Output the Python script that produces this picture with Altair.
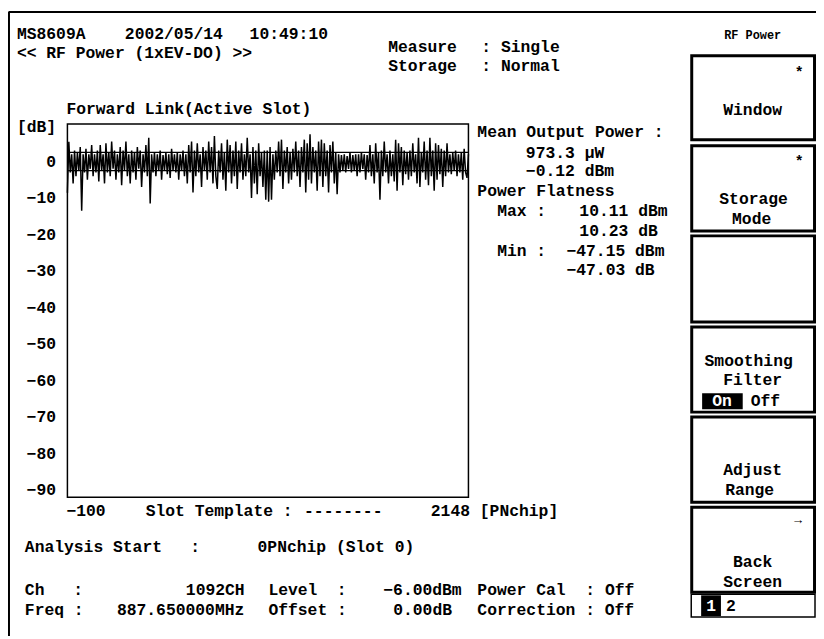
import altair as alt
import pandas as pd

# ---------------- data ----------------
chip_start = -100
chip_step = 8
trace_db = [
    -8.6, 5.4, -3.0, 2.0, -6.0, 3.0, -4.0, 2.5, -2.5, 4.0, -13.5, 2.0, -3.0, 3.5, -5.0, 2.0, -2.0, 4.5, -4.0, 2.0,
    -3.0, 3.0, -5.5, 4.5, -2.5, 2.0, -6.0, 5.0, -3.0, 2.5, -4.0, 5.5, -2.0, 3.0, -5.0, 2.0, -3.0, 4.0, -6.5, 3.0,
    -2.5, 5.5, -4.0, 2.0, -6.0, 3.0, -3.0, 2.5, -5.0, 4.0, -2.0, 3.0, -7.0, 2.0, -3.0, 4.5, -4.0, 6.5, -11.5, 2.0,
    -3.0, 2.5, -4.0, 2.0, -2.5, 3.0, -5.0, 1.8, -2.5, 2.5, -3.5, 2.0, -4.5, 3.5, -2.5, 2.0, -3.0, 2.5, -5.0, 2.0,
    -2.5, 3.0, -4.0, 2.0, -6.0, 4.5, -3.0, 5.5, -8.5, 3.0, -4.0, 5.0, -3.0, 2.0, -7.0, 4.0, -2.5, 3.0, -5.0, 5.5,
    -3.0, 4.0, -6.0, 7.0, -4.0, -7.5, 3.0, -3.0, 5.0, -5.0, 2.5, -8.0, 6.0, -3.0, 4.5, -6.0, 3.0, -4.0, 5.5, -7.5,
    3.0, -3.0, 5.0, -5.0, 2.0, -4.0, 6.5, -3.0, 2.0, -10.0, 4.0, -6.0, 3.0, -9.0, 5.0, -4.0, 2.5, -7.0, 3.0, -10.5,
    3.0, -11.0, 4.0, -10.5, 2.0, -5.0, 3.0, -3.0, 5.5, -4.0, 6.0, -7.5, 3.0, -3.0, 4.0, -6.0, 2.5, -5.0, 3.5, -3.0,
    5.5, -4.0, 3.0, -7.0, 4.0, -3.0, 6.0, -8.5, 5.0, -5.0, 7.5, -6.0, 4.0, -3.0, 3.0, -8.0, 5.5, -4.0, 6.0, -7.0,
    5.0, -4.0, 3.0, -8.5, 4.5, -3.0, 5.5, -6.0, 2.5, -9.0, 2.0, -3.0, 1.8, -2.5, 2.0, -3.0, 1.5, -2.0, 2.5, -3.0,
    1.8, -2.5, 2.0, -4.0, 2.0, -3.0, 2.5, -2.0, 2.0, -5.0, 1.8, -3.0, 4.5, -4.0, 2.0, -6.0, 5.0, -3.0, 2.5, -10.5,
    3.0, -4.0, 5.5, -3.0, 2.0, -6.0, 3.0, -4.0, 2.0, -5.5, 6.0, -8.0, 5.0, -3.0, 4.0, -6.5, 3.0, -3.5, 2.5, -5.0,
    3.0, -4.0, 5.0, -3.0, 2.0, -6.0, 6.5, -7.0, 2.5, -3.0, 5.5, -5.0, 3.0, -6.5, 6.5, -4.0, 3.0, -8.0, 5.0, -5.0,
    4.5, -3.5, 3.5, -7.0, 3.0, -4.0, 5.0, -3.0, 2.0, -3.5, 2.5, -2.5, 3.0, -4.0, 2.0, -3.0, 2.5, -5.0, 3.5, -3.0,
    -4.5, 2.0,
]
template_db = [2.5, -2.5]
y_ticks = [0, -10, -20, -30, -40, -50, -60, -70, -80, -90]
x_domain = [-100, 2148]
y_domain = [-92.1, 10.3]

header_texts = ["MS8609A", "2002/05/14", "10:49:10", "<< RF Power (1xEV-DO) >>"]
measure_texts = ["Measure", ": Single", "Storage", ": Normal"]
result_texts = ["Mean Output Power :", "973.3 μW", "−0.12 dBm", "Power Flatness",
                "Max :", "10.11 dBm", "10.23 dB", "Min :", "−47.15 dBm", "−47.03 dB"]
axis_texts = ["−100", "Slot Template :", "--------", "2148 [PNchip]"]
bottom_texts = ["Analysis Start", ":", "0PNchip (Slot 0)",
                "Ch", ":", "1092CH", "Level", ":", "−6.00dBm", "Power Cal", ": Off",
                "Freq :", "887.650000MHz", "Offset :", "0.00dB", "Correction : Off"]
softkeys = ["Window", "Storage", "Mode", "Smoothing", "Filter", "On", "Off",
            "Adjust", "Range", "Back", "Screen"]

trace = pd.DataFrame({
    "chip": [chip_start + chip_step * i for i in range(len(trace_db))],
    "db": trace_db,
})
templ = pd.DataFrame({"db": template_db})
one = pd.DataFrame({"k": [0]})

# ---------------- layout ----------------
OX, OY = 68, 122          # page position of plot area origin
W, H = 405, 377
FONT = "Liberation Mono"
FS = 16.5


def T(s, px, py, align="left", size=FS, color="black", weight="bold"):
    return alt.Chart(one).mark_text(
        text=s, align=align, baseline="middle", font=FONT, fontSize=size,
        fontWeight=weight, color=color
    ).encode(x=alt.value(px - OX), y=alt.value(py - OY))


def R(x1, y1, x2, y2, fill="transparent", stroke="black", sw=3.0):
    return alt.Chart(one).mark_rect(fill=fill, stroke=stroke, strokeWidth=sw).encode(
        x=alt.value(x1 - OX), x2=alt.value(x2 - OX),
        y=alt.value(y1 - OY), y2=alt.value(y2 - OY))


def L(x1, y1, x2, y2, sw=2.0):
    return alt.Chart(one).mark_rule(color="black", strokeWidth=sw).encode(
        x=alt.value(x1 - OX), x2=alt.value(x2 - OX),
        y=alt.value(y1 - OY), y2=alt.value(y2 - OY))


line = alt.Chart(trace).mark_line(color="black", strokeWidth=1.5).encode(
    x=alt.X("chip:Q", scale=alt.Scale(domain=x_domain, nice=False, zero=False), axis=None),
    y=alt.Y("db:Q", scale=alt.Scale(domain=y_domain, nice=False, zero=False),
            axis=alt.Axis(values=y_ticks, title=None, ticks=False, domain=False, grid=False,
                          labelFont=FONT, labelFontSize=FS, labelFontWeight="bold",
                          labelColor="black", labelPadding=12)),
)
tmpl = alt.Chart(templ).mark_rule(color="black", strokeWidth=1.3).encode(y="db:Q")

layers = [tmpl, line]

# frame lines
layers += [L(8.5, 9, 824, 9), L(9, 9, 9, 639)]

# header
layers += [T(header_texts[0], 17, 31), T(header_texts[1], 126, 31), T(header_texts[2], 252, 31),
           T(header_texts[3], 17, 50)]
layers += [T(measure_texts[0], 392, 44), T(measure_texts[1], 486, 44),
           T(measure_texts[2], 392, 64), T(measure_texts[3], 486, 64)]
layers += [T("RF Power", 760, 32, align="center", size=12)]
layers += [T("Forward Link(Active Slot)", 67, 107), T("[dB]", 17, 125)]

# results
rx = [482, 531, 531, 482, 502, 585, 585, 502, 572, 572]
ry = [130, 151, 170, 190, 210, 210, 230, 250, 250, 270]
for s, px, py in zip(result_texts, rx, ry):
    layers.append(T(s, px, py))

# x axis texts
layers += [T(axis_texts[0], 67, 513), T(axis_texts[1], 147, 513),
           T(axis_texts[2], 307, 513), T(axis_texts[3], 435, 513)]

# bottom info
CH_Y, FQ_Y = 593, 613
layers += [T(bottom_texts[0], 25, 549), T(bottom_texts[1], 192, 549), T(bottom_texts[2], 260, 549)]
layers += [T(bottom_texts[3], 25, CH_Y), T(bottom_texts[4], 74, CH_Y),
           T(bottom_texts[5], 247, CH_Y, align="right"), T(bottom_texts[6], 271, CH_Y),
           T(bottom_texts[7], 340, CH_Y), T(bottom_texts[8], 387, CH_Y),
           T(bottom_texts[9], 482, CH_Y), T(bottom_texts[10], 591, CH_Y)]
layers += [T(bottom_texts[11], 25, FQ_Y), T(bottom_texts[12], 118, FQ_Y),
           T(bottom_texts[13], 271, FQ_Y), T(bottom_texts[14], 397, FQ_Y),
           T(bottom_texts[15], 482, FQ_Y)]

# softkey boxes
boxes = [(53, 138), (144, 230), (235, 322), (327, 413), (418, 504), (509, 595)]
for y1, y2 in boxes:
    layers.append(R(698.5, y1, 822.5, y2))
layers += [T("*", 807, 70, align="center", size=15), T(softkeys[0], 760, 108, align="center")]
layers += [T("*", 807, 159, align="center", size=15), T(softkeys[1], 761, 198, align="center"),
           T(softkeys[2], 759, 218, align="center")]
layers += [T(softkeys[3], 756, 361, align="center"), T(softkeys[4], 760, 381, align="center"),
           R(709, 394, 750, 410, fill="black", stroke="black", sw=0),
           T(softkeys[5], 729, 402, align="center", color="white"), T(softkeys[6], 758, 402)]
layers += [T(softkeys[7], 760, 472, align="center"), T(softkeys[8], 757, 492, align="center")]
layers += [T("→", 806, 522, align="center", size=13), T(softkeys[9], 760, 564, align="center"),
           T(softkeys[10], 760, 585, align="center")]
# page indicator
layers += [R(698, 597, 823, 620, sw=1.5),
           R(708, 598, 728, 619, fill="black", stroke="black", sw=0),
           T("1", 718, 609, align="center", color="white"), T("2", 733, 609)]

chart = alt.layer(*layers).properties(
    width=W, height=H,
    padding={"left": OX - 8, "top": OY - 8, "right": 816 - (OX - 8) - W, "bottom": 631 - (OY - 8) - H},
    autosize=alt.AutoSizeParams(type="none"),
    background="white",
).configure_view(stroke="black", strokeWidth=1.5)

chart.save("out.html", embed_options={"renderer": "svg", "actions": False})
